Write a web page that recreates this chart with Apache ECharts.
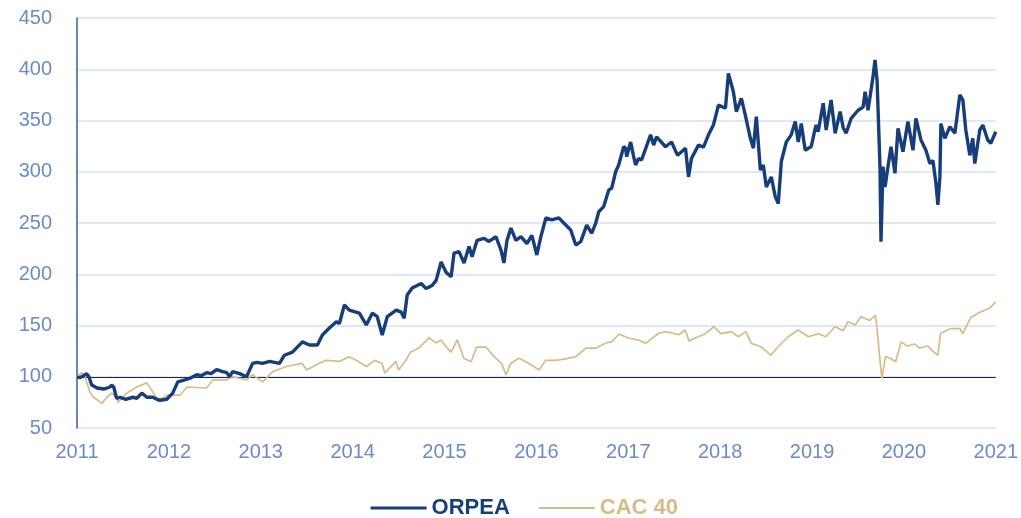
<!DOCTYPE html>
<html>
<head>
<meta charset="utf-8">
<script src="https://cdn.jsdelivr.net/npm/echarts@6/dist/echarts.min.js"></script>
<style>
html,body{margin:0;padding:0;background:#fff;}
#chart{width:1021px;height:518px;}
</style>
</head>
<body>
<div id="chart"></div>
<script>
// Time in fractional years, values rebased to 100
const orpeaTimes = [2011.00,2011.03,2011.07,2011.105,2011.13,2011.16,2011.22,2011.29,2011.36,2011.377,2011.40,2011.431,2011.467,2011.53,2011.608,2011.651,2011.706,2011.76,2011.825,2011.87,2011.901,2011.977,2012.042,2012.097,2012.173,2012.24,2012.303,2012.35,2012.412,2012.46,2012.52,2012.585,2012.63,2012.661,2012.694,2012.77,2012.846,2012.911,2012.96,2013.02,2013.096,2013.204,2013.258,2013.345,2013.454,2013.53,2013.617,2013.671,2013.747,2013.823,2013.856,2013.91,2013.964,2014.073,2014.149,2014.214,2014.268,2014.322,2014.377,2014.474,2014.529,2014.561,2014.594,2014.648,2014.746,2014.80,2014.865,2014.909,2014.963,2015.017,2015.072,2015.104,2015.159,2015.213,2015.267,2015.30,2015.354,2015.43,2015.484,2015.56,2015.615,2015.647,2015.68,2015.723,2015.777,2015.832,2015.897,2015.951,2016.005,2016.049,2016.103,2016.168,2016.244,2016.32,2016.375,2016.429,2016.483,2016.548,2016.603,2016.646,2016.679,2016.733,2016.787,2016.82,2016.863,2016.896,2016.917,2016.95,2016.972,2016.983,2017.026,2017.059,2017.08,2017.113,2017.145,2017.243,2017.276,2017.308,2017.406,2017.471,2017.537,2017.623,2017.656,2017.688,2017.764,2017.819,2017.873,2017.927,2017.982,2018.058,2018.09,2018.144,2018.177,2018.231,2018.275,2018.329,2018.362,2018.394,2018.438,2018.47,2018.503,2018.557,2018.60,2018.633,2018.666,2018.72,2018.774,2018.818,2018.85,2018.883,2018.926,2018.959,2018.991,2019.035,2019.046,2019.067,2019.122,2019.154,2019.208,2019.252,2019.306,2019.339,2019.371,2019.426,2019.502,2019.556,2019.578,2019.61,2019.664,2019.686,2019.708,2019.719,2019.74,2019.751,2019.773,2019.795,2019.827,2019.86,2019.903,2019.936,2019.99,2020.044,2020.099,2020.131,2020.186,2020.24,2020.283,2020.316,2020.349,2020.37,2020.392,2020.403,2020.446,2020.501,2020.555,2020.609,2020.642,2020.674,2020.718,2020.75,2020.772,2020.826,2020.859,2020.913,2020.946,2021.00];
const orpeaValues = [100,99,101,103,100,92,89,88,90,92,90,79,80,78,80,79,84,80,80,78,77,78,84,95,97,99,102,101,104,103,107,105,104,100,105,103,100,113,114,113,115,113,121,124,134,131,131,140.7,147.5,153.7,152,170,165,162,150.5,162,158.6,140.7,158.6,165,163,157,179.8,186.6,191,186,189,194,212,202,197.6,220.7,222,211,227,217,233,235,232,236.6,223.6,211,233,245,233,236.6,230,238,218.8,236.6,255,253,255,248,243,228.5,231.8,248,240,250,261,266,282,284,300,306.6,308.5,324.4,323,314.7,329,314.7,306.6,313,311.5,336,326,334,324.4,329,316,323,295,313,326,324,336,345.6,365,362,396,378,358.6,371.6,355,332.6,323,353.7,301.7,306.6,285,295,275.7,269,310,329,336,349,329,347,321,322.9,324.4,342.4,345.6,339,366.8,340.7,370,337.5,358.6,343,337.5,352,360,363,378,360,392.7,409,389.5,391,305,231.8,305,285,305,324.4,298.5,342.4,319.6,349,321,352,331,321,308,311,288.7,267.6,295,347,332.6,344,337.5,375,370,340.7,316,332.6,308,340.7,345.6,331,327.8,339];

const cacTimes = [2011.00,2011.051,2011.087,2011.141,2011.174,2011.228,2011.271,2011.326,2011.38,2011.434,2011.445,2011.54,2011.65,2011.76,2011.87,2011.93,2011.98,2012.12,2012.20,2012.41,2012.48,2012.63,2012.69,2012.85,2012.91,2013.02,2013.13,2013.28,2013.45,2013.50,2013.63,2013.71,2013.86,2013.96,2014.04,2014.15,2014.24,2014.32,2014.35,2014.47,2014.50,2014.58,2014.63,2014.72,2014.83,2014.91,2014.96,2015.02,2015.07,2015.14,2015.21,2015.29,2015.35,2015.45,2015.54,2015.62,2015.67,2015.72,2015.81,2015.92,2016.03,2016.10,2016.21,2016.32,2016.43,2016.54,2016.65,2016.76,2016.82,2016.90,2017.00,2017.11,2017.19,2017.33,2017.41,2017.55,2017.62,2017.66,2017.76,2017.84,2017.93,2018.01,2018.12,2018.20,2018.28,2018.34,2018.45,2018.55,2018.63,2018.74,2018.85,2018.96,2019.07,2019.15,2019.25,2019.34,2019.39,2019.47,2019.53,2019.63,2019.69,2019.71,2019.74,2019.76,2019.80,2019.85,2019.91,2019.97,2020.04,2020.12,2020.17,2020.26,2020.32,2020.37,2020.40,2020.51,2020.61,2020.64,2020.73,2020.84,2020.93,2021.00];
const cacValues = [100,104,100,85,80.5,77,74,80,84,79,75,84,90,94,79,79,82,82,90,89,97,97,100,97,102,95,105,110,113,106.6,113,116,115,119.5,116,110,116,113,103.6,115,106.6,116,124,128,138,133,136,129,124,136,118,114.7,129,129,119.6,113,101.7,113,118,113,106.6,116,116,117.5,119.6,128,128,133,134,141.7,137.8,135.8,132.6,142.4,144,141,145.6,135,139,142,148.8,142,144,139,144,132.6,129,121,129,139,145.6,139,142,139,148.8,145,153.7,150.5,158.6,155,160,145,116,98.5,119.6,118,114.7,134,130,132,127.8,130,124.5,121,142.4,147,147,142,158,163.5,166.8,173];

const yearTicks = [2011,2012,2013,2014,2015,2016,2017,2018,2019,2020,2021];
const seriesNames = ['ORPEA','CAC 40'];
const baseLevel = 100;

const zip = (a, b) => a.map((t, i) => [t, b[i]]);

const labelColor = '#6b8bc7';
const orpeaColor = '#173d7b';
const cacColor = '#d8bb86';
const font = 'Liberation Sans, Arial, sans-serif';
const chart = echarts.init(document.getElementById('chart'), null, {renderer: 'canvas'});
chart.setOption({
  animation: false,
  backgroundColor: '#ffffff',
  grid: {left: 77, right: 23, top: 18, bottom: 90, containLabel: false},
  xAxis: {
    type: 'value', min: yearTicks[0], max: yearTicks[yearTicks.length - 1], interval: 1,
    axisLine: {show: false}, axisTick: {show: false}, splitLine: {show: false},
    axisLabel: {color: labelColor, fontSize: 20, fontFamily: font, margin: 14,
      formatter: v => String(Math.round(v))}
  },
  yAxis: {
    type: 'value', min: 50, max: 450, interval: 50,
    axisLine: {show: true, lineStyle: {color: '#3d5c9b', width: 1.5}},
    axisTick: {show: false},
    splitLine: {show: true, lineStyle: {color: '#d4e0f7', width: 1.5}},
    axisLabel: {color: labelColor, fontSize: 20, fontFamily: font, margin: 25}
  },
  legend: {
    top: 492, left: 364, itemWidth: 56, itemHeight: 22, itemGap: 28,
    itemStyle: {opacity: 0},
    textStyle: {fontSize: 22, fontWeight: 'bold', fontFamily: font},
    data: [
      {name: seriesNames[0], textStyle: {color: orpeaColor}, lineStyle: {width: 3.2, color: orpeaColor}},
      {name: seriesNames[1], textStyle: {color: cacColor}, lineStyle: {width: 2, color: cacColor}}
    ]
  },
  series: [
    {
      name: seriesNames[1], type: 'line', data: zip(cacTimes, cacValues),
      showSymbol: false, symbol: 'none', z: 3,
      lineStyle: {color: cacColor, width: 1.7}, itemStyle: {color: cacColor},
      markLine: {silent: true, symbol: 'none', label: {show: false},
        lineStyle: {color: '#14284f', width: 1, type: 'solid'}, data: [{yAxis: baseLevel}], z: 2}
    },
    {
      name: seriesNames[0], type: 'line', data: zip(orpeaTimes, orpeaValues),
      showSymbol: false, symbol: 'none', z: 4,
      lineStyle: {color: orpeaColor, width: 3.4}, itemStyle: {color: orpeaColor}
    }
  ]
});
</script>
</body>
</html>
